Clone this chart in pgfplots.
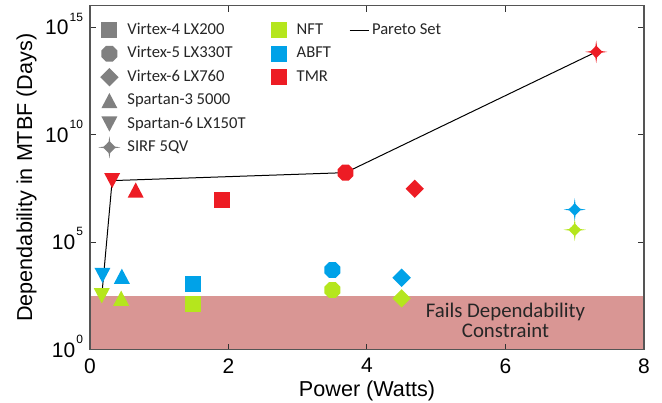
\documentclass[border=0pt]{standalone}
\usepackage{pgfplots}
\pgfplotsset{compat=1.18}
\usepackage{fontspec}
\setmainfont{Liberation Sans}
\newfontfamily\carlito{Carlito}
\definecolor{nftc}{RGB}{181,230,29}
\definecolor{abftc}{RGB}{0,162,232}
\definecolor{tmrc}{RGB}{237,28,36}
\definecolor{failc}{RGB}{217,150,148}
\definecolor{legg}{RGB}{128,128,128}
\definecolor{axc}{RGB}{85,85,85}

\pgfdeclareplotmark{sqr}{%
  \pgfpathrectanglecorners{\pgfqpoint{-\pgfplotmarksize}{-\pgfplotmarksize}}{\pgfqpoint{\pgfplotmarksize}{\pgfplotmarksize}}%
  \pgfusepathqfill}
\pgfdeclareplotmark{oct}{%
  \pgfpathmoveto{\pgfqpointpolar{22.5}{\pgfplotmarksize}}%
  \pgfpathlineto{\pgfqpointpolar{67.5}{\pgfplotmarksize}}%
  \pgfpathlineto{\pgfqpointpolar{112.5}{\pgfplotmarksize}}%
  \pgfpathlineto{\pgfqpointpolar{157.5}{\pgfplotmarksize}}%
  \pgfpathlineto{\pgfqpointpolar{202.5}{\pgfplotmarksize}}%
  \pgfpathlineto{\pgfqpointpolar{247.5}{\pgfplotmarksize}}%
  \pgfpathlineto{\pgfqpointpolar{292.5}{\pgfplotmarksize}}%
  \pgfpathlineto{\pgfqpointpolar{337.5}{\pgfplotmarksize}}%
  \pgfpathclose\pgfusepathqfill}
\pgfdeclareplotmark{dia}{%
  \pgfpathmoveto{\pgfqpoint{0pt}{\pgfplotmarksize}}%
  \pgfpathlineto{\pgfqpoint{\pgfplotmarksize}{0pt}}%
  \pgfpathlineto{\pgfqpoint{0pt}{-\pgfplotmarksize}}%
  \pgfpathlineto{\pgfqpoint{-\pgfplotmarksize}{0pt}}%
  \pgfpathclose\pgfusepathqfill}
\pgfdeclareplotmark{tup}{%
  \pgfpathmoveto{\pgfqpoint{0pt}{0.95\pgfplotmarksize}}%
  \pgfpathlineto{\pgfqpoint{\pgfplotmarksize}{-0.95\pgfplotmarksize}}%
  \pgfpathlineto{\pgfqpoint{-\pgfplotmarksize}{-0.95\pgfplotmarksize}}%
  \pgfpathclose\pgfusepathqfill}
\pgfdeclareplotmark{tdown}{%
  \pgfpathmoveto{\pgfqpoint{0pt}{-0.95\pgfplotmarksize}}%
  \pgfpathlineto{\pgfqpoint{\pgfplotmarksize}{0.95\pgfplotmarksize}}%
  \pgfpathlineto{\pgfqpoint{-\pgfplotmarksize}{0.95\pgfplotmarksize}}%
  \pgfpathclose\pgfusepathqfill}
\pgfdeclareplotmark{spark}{%
  \pgfpathmoveto{\pgfqpoint{0pt}{\pgfplotmarksize}}%
  \pgfpathlineto{\pgfqpoint{0.07\pgfplotmarksize}{0.5\pgfplotmarksize}}%
  \pgfpathlineto{\pgfqpoint{0.28\pgfplotmarksize}{0.28\pgfplotmarksize}}%
  \pgfpathlineto{\pgfqpoint{0.5\pgfplotmarksize}{0.07\pgfplotmarksize}}%
  \pgfpathlineto{\pgfqpoint{\pgfplotmarksize}{0pt}}%
  \pgfpathlineto{\pgfqpoint{0.5\pgfplotmarksize}{-0.07\pgfplotmarksize}}%
  \pgfpathlineto{\pgfqpoint{0.28\pgfplotmarksize}{-0.28\pgfplotmarksize}}%
  \pgfpathlineto{\pgfqpoint{0.07\pgfplotmarksize}{-0.5\pgfplotmarksize}}%
  \pgfpathlineto{\pgfqpoint{0pt}{-\pgfplotmarksize}}%
  \pgfpathlineto{\pgfqpoint{-0.07\pgfplotmarksize}{-0.5\pgfplotmarksize}}%
  \pgfpathlineto{\pgfqpoint{-0.28\pgfplotmarksize}{-0.28\pgfplotmarksize}}%
  \pgfpathlineto{\pgfqpoint{-0.5\pgfplotmarksize}{-0.07\pgfplotmarksize}}%
  \pgfpathlineto{\pgfqpoint{-\pgfplotmarksize}{0pt}}%
  \pgfpathlineto{\pgfqpoint{-0.5\pgfplotmarksize}{0.07\pgfplotmarksize}}%
  \pgfpathlineto{\pgfqpoint{-0.28\pgfplotmarksize}{0.28\pgfplotmarksize}}%
  \pgfpathlineto{\pgfqpoint{-0.07\pgfplotmarksize}{0.5\pgfplotmarksize}}%
  \pgfpathclose\pgfusepathqfill}

\newcommand{\tlab}[1]{10\hspace{0.5pt}\raisebox{6.8pt}{\fontsize{6}{6}\selectfont #1}}

\pgfplotsset{
  legmark/.style={legend image code/.code={%
      \path[draw=none,fill=none] (-5pt,-5pt) rectangle (7.5pt,5pt);
      \begin{pgfinterruptboundingbox}\draw[##1] plot coordinates {(0pt,0pt)};\end{pgfinterruptboundingbox}}},
  legline/.style={legend image code/.code={\draw[##1] (-4.75pt,0pt) -- (4.75pt,0pt);}},
  legempty/.style={legend image code/.code={\path[draw=none] (0pt,0pt);}},
  mS6/.style={only marks, mark=tdown, mark size=4pt, forget plot},
  mS3/.style={only marks, mark=tup, mark size=4pt, forget plot},
  mV4/.style={only marks, mark=sqr, mark size=4pt, forget plot},
  mV5/.style={only marks, mark=oct, mark size=4.3pt, forget plot},
  mV6/.style={only marks, mark=dia, mark size=4.6pt, forget plot},
  mSI/.style={only marks, mark=spark, mark size=5.6pt, forget plot},
}

\begin{document}
\begin{tikzpicture}
\useasboundingbox (-45pt,-26.25pt) rectangle (286pt,174.75pt);
\begin{axis}[
  at={(0pt,0pt)}, anchor=south west,
  scale only axis, width=277pt, height=171.9pt,
  xmin=0, xmax=8, ymode=log, ymin=1, ymax=1e16,
  xtick={0,2,4,6,8}, ytick={1,1e5,1e10,1e15},
  yticklabels={\tlab{0},\tlab{5},\tlab{10},\tlab{15}},
  yminorticks=false, xminorticks=false,
  tick align=inside, major tick length=3pt,
  axis on top,
  axis line style={draw=axc, line width=0.6pt},
  tick style={draw=black!80, line width=0.5pt},
  tick label style={font=\fontsize{10.5}{12}\selectfont},
  /pgf/number format/assume math mode=true,
  yticklabel style={anchor=base east, yshift=-3.75pt},
  xticklabel style={yshift=-0.9pt},
  xlabel={Power (Watts)}, ylabel={Dependability in MTBF (Days)},
  label style={font=\fontsize{10.8}{13}\selectfont, inner sep=0pt},
  xlabel style={at={(axis description cs:0.5,-0.1373)}, anchor=base},
  ylabel style={at={(axis description cs:-0.1144,0.5)}, anchor=center},
  legend columns=3, legend cell align=left,
  legend style={at={(rel axis cs:0,1)}, anchor=north west, xshift=4.5pt, yshift=-7.15pt,
    draw=none, fill=none, inner sep=0pt, font=\carlito\fontsize{8.3}{10}\selectfont,
    text=black!85, row sep=1.7pt, nodes={inner xsep=1.5pt, inner ysep=0pt},
    /tikz/column 2/.style={column sep=10pt}, /tikz/column 4/.style={column sep=7.5pt}},
]
% constraint region
\addplot[fill=failc, draw=none, forget plot] coordinates {(0,1) (8,1) (8,316) (0,316)};

% Spartan-6 LX150T
\addplot[mS6, color=nftc]  coordinates {(0.17,316)};
\addplot[mS6, color=abftc] coordinates {(0.18,2818)};
\addplot[mS6, color=tmrc]  coordinates {(0.32,7.24e7)};
% Spartan-3 5000
\addplot[mS3, color=nftc]  coordinates {(0.45,245)};
\addplot[mS3, color=abftc] coordinates {(0.46,2570)};
\addplot[mS3, color=tmrc]  coordinates {(0.66,2.63e7)};
% Virtex-4 LX200
\addplot[mV4, color=nftc]  coordinates {(1.49,135)};
\addplot[mV4, color=abftc] coordinates {(1.49,1175)};
\addplot[mV4, color=tmrc]  coordinates {(1.90,8.9e6)};
% Virtex-5 LX330T
\addplot[mV5, color=nftc]  coordinates {(3.50,589)};
\addplot[mV5, color=abftc] coordinates {(3.50,5012)};
\addplot[mV5, color=tmrc]  coordinates {(3.69,1.7e8)};
% Virtex-6 LX760
\addplot[mV6, color=nftc]  coordinates {(4.50,240)};
\addplot[mV6, color=abftc] coordinates {(4.50,2188)};
\addplot[mV6, color=tmrc]  coordinates {(4.69,3.02e7)};
% SIRF 5QV
\addplot[mSI, color=nftc]  coordinates {(7.00,3.72e5)};
\addplot[mSI, color=abftc] coordinates {(7.00,3.24e6)};
\addplot[mSI, color=tmrc]  coordinates {(7.31,7.08e13)};

% Pareto set
\addplot[black, line width=0.5pt, mark=none, forget plot] coordinates {(0.17,316) (0.32,7.24e7) (3.69,1.7e8) (7.31,7.08e13)};

\node[font=\carlito\fontsize{10.4}{9.7}\selectfont, align=center, text=black!85, inner sep=0pt] at (axis cs:6.0,22.9) {Fails Dependability\\Constraint};

% legend (row-major, 3 columns)
\addlegendimage{legmark, mark=sqr, mark size=4pt, color=legg}\addlegendentry{Virtex-4 LX200}
\addlegendimage{legmark, mark=sqr, mark size=4pt, color=nftc}\addlegendentry{NFT}
\addlegendimage{legline, black, line width=0.5pt}\addlegendentry{Pareto Set}
\addlegendimage{legmark, mark=oct, mark size=4.3pt, color=legg}\addlegendentry{Virtex-5 LX330T}
\addlegendimage{legmark, mark=sqr, mark size=4pt, color=abftc}\addlegendentry{ABFT}
\addlegendimage{legempty}\addlegendentry{}
\addlegendimage{legmark, mark=dia, mark size=4.6pt, color=legg}\addlegendentry{Virtex-6 LX760}
\addlegendimage{legmark, mark=sqr, mark size=4pt, color=tmrc}\addlegendentry{TMR}
\addlegendimage{legempty}\addlegendentry{}
\addlegendimage{legmark, mark=tup, mark size=4pt, color=legg}\addlegendentry{Spartan-3 5000}
\addlegendimage{legempty}\addlegendentry{}
\addlegendimage{legempty}\addlegendentry{}
\addlegendimage{legmark, mark=tdown, mark size=4pt, color=legg}\addlegendentry{Spartan-6 LX150T}
\addlegendimage{legempty}\addlegendentry{}
\addlegendimage{legempty}\addlegendentry{}
\addlegendimage{legmark, mark=spark, mark size=5.6pt, color=legg}\addlegendentry{SIRF 5QV}
\end{axis}
\end{tikzpicture}
\end{document}
